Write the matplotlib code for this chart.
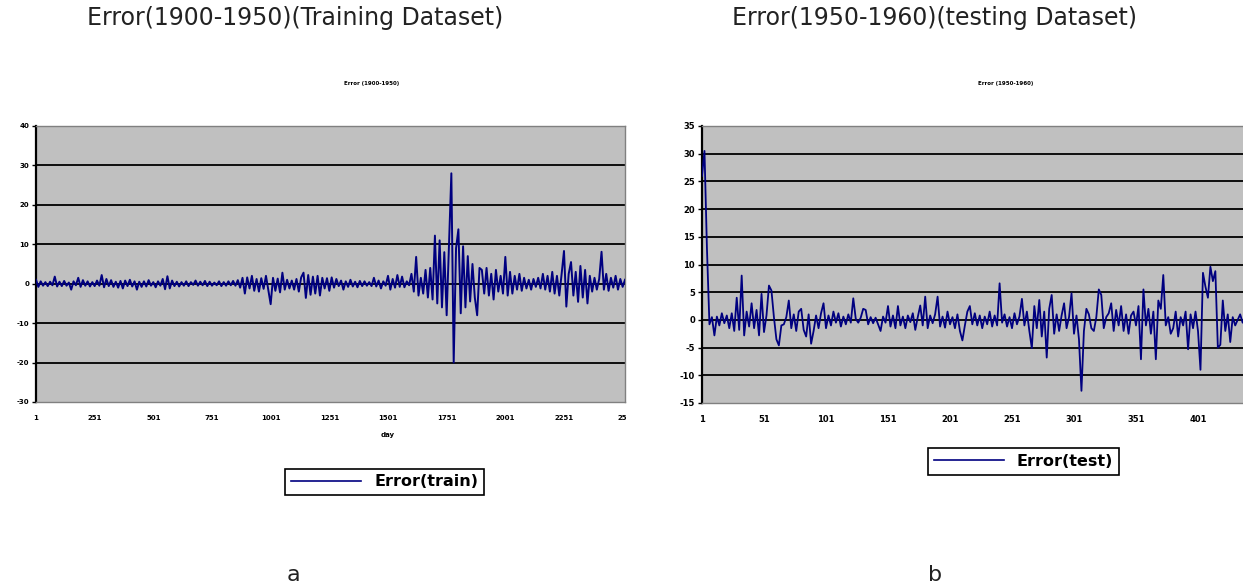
import matplotlib.pyplot as plt
import numpy as np

plt.rcParams['axes.unicode_minus'] = False

# error values (train: one value every 10 days, test: every 2 days)
train_err = [
    1.0, -0.8, 0.6, -0.5, 0.4, -0.6, 0.5, -0.4, 1.8, -0.7,
    0.5, -0.6, 0.7, -0.5, 0.3, -1.5, 0.6, -0.4, 1.5, -0.8,
    0.9, -0.5, 0.6, -0.7, 0.4, -0.6, 0.8, -0.5, 2.2, -0.9,
    1.2, -0.6, 0.9, -0.8, 0.5, -1.0, 0.7, -1.2, 0.8, -0.6,
    1.0, -0.7, 0.6, -1.5, 0.5, -0.8, 0.6, -0.7, 0.9, -0.5,
    0.4, -0.9, 0.6, -0.5, 1.2, -1.4, 1.9, -1.2, 0.8, -0.6,
    0.5, -0.7, 0.4, -0.5, 0.6, -0.6, 0.4, -0.3, 0.8, -0.5,
    0.5, -0.4, 0.7, -0.6, 0.5, -0.5, 0.3, -0.4, 0.6, -0.6,
    0.4, -0.5, 0.6, -0.4, 0.7, -0.5, 0.9, -1.0, 1.5, -2.5,
    1.6, -1.2, 2.0, -1.8, 1.2, -2.0, 1.4, -1.3, 2.0, -1.6,
    -5.2, 1.5, -1.8, 1.3, -2.2, 2.8, -1.5, 1.0, -1.2, 0.8,
    -1.5, 1.2, -2.0, 1.6, 2.8, -3.6, 2.2, -2.8, 1.8, -2.5,
    2.0, -3.0, 1.5, -1.2, 1.4, -1.8, 1.6, -1.0, 1.2, -0.6,
    0.8, -1.5, 0.6, -0.8, 1.0, -0.7, 0.5, -0.9, 0.7, -0.6,
    0.6, -0.5, 0.4, -0.6, 1.5, -0.7, 0.8, -1.2, 0.6, -0.5,
    2.0, -1.5, 1.2, -1.0, 2.2, -0.8, 1.8, -0.9, 0.6, -0.4,
    2.5, -2.0, 6.8, -3.0, 1.5, -2.5, 3.5, -3.5, 4.0, -4.0,
    12.2, -5.0, 11.0, -6.0, 8.0, -8.0, 10.0, 28.0, -20.0, 9.0,
    13.8, -7.5, 9.5, -6.0, 7.0, -4.5, 5.0, -3.5, -8.0, 4.0,
    3.5, -2.5, 4.0, -3.0, 2.5, -4.0, 3.5, -2.0, 2.0, -2.5,
    6.8, -3.0, 3.0, -2.5, 2.0, -1.5, 2.5, -1.8, 1.5, -1.2,
    1.0, -1.5, 1.2, -0.8, 1.5, -1.2, 2.5, -1.5, 2.0, -2.0,
    3.0, -2.5, 2.0, -3.0, 2.5, 8.3, -5.8, 2.5, 5.5, -3.0,
    3.0, -4.6, 4.5, -3.5, 3.5, -5.0, 2.0, -2.0, 1.5, -1.5,
    1.2, 8.1, -1.5, 2.5, -1.8, 1.5, -1.0, 2.0, -1.5, 1.2,
    -0.8, 1.0,
]
test_err = [
    26.0, 30.5, 12.8, -0.8, 0.5, -2.8, 0.6, -1.0, 1.2, -0.6,
    0.8, -1.5, 1.2, -2.0, 4.0, -1.8, 8.0, -2.8, 1.5, -1.2,
    3.0, -1.5, 1.8, -2.8, 4.7, -2.2, 0.8, 6.2, 5.3, 0.5,
    -3.5, -4.6, -1.0, -0.8, 0.5, 3.5, -1.5, 1.0, -2.0, 1.5,
    2.0, -1.8, -3.0, 1.0, -4.3, -2.0, 0.8, -1.5, 1.2, 3.0,
    -1.5, 0.8, -1.0, 1.5, -0.5, 1.2, -1.2, 0.6, -0.8, 1.0,
    -0.5, 3.9, 0.2, -0.5, 0.4, 2.0, 1.8, -0.8, 0.5, -0.6,
    0.4, -0.8, -2.0, 0.6, -0.5, 2.5, -1.2, 0.8, -1.5, 2.5,
    -1.0, 0.6, -1.5, 0.8, -0.4, 1.2, -1.8, 0.5, 2.6, -1.0,
    4.2, -1.5, 0.8, -0.6, 1.0, 4.2, -1.2, 0.6, -1.4, 1.5,
    -0.8, 0.5, -1.5, 1.0, -2.0, -3.7, -1.0, 1.5, 2.5, -0.8,
    1.2, -1.0, 0.8, -1.5, 0.6, -0.8, 1.5, -1.2, 0.8, -1.0,
    6.6, -0.5, 1.0, -1.2, 0.5, -1.5, 1.2, -0.8, 0.6, 3.8,
    -1.0, 1.5, -2.0, -5.1, 2.5, -1.5, 3.6, -3.0, 1.5, -6.8,
    2.0, 4.5, -2.5, 1.0, -2.0, 0.8, 3.0, -1.5, 0.5, 4.8,
    -2.5, 0.8, -3.5, -12.8, -2.0, 2.0, 1.0, -1.5, -2.0, 0.5,
    5.5, 4.5, -1.5, 0.5, 1.2, 3.0, -2.0, 1.8, -1.0, 2.5,
    -2.0, 1.0, -2.5, 0.8, 1.5, -1.0, 2.5, -7.1, 5.5, -1.0,
    2.0, -2.5, 1.5, -7.1, 3.5, 2.0, 8.1, -1.0, 0.5, -2.5,
    -1.5, 1.5, -3.0, 0.5, -1.0, 1.5, -5.3, 1.0, -1.5, 1.5,
    -2.0, -9.0, 8.5, 6.0, 4.0, 9.6, 7.0, 8.8, -5.0, -4.5,
    3.5, -2.0, 1.0, -4.0, 0.5, -1.0, 0.0, 1.0, -0.5, 0.5,
]
train_step = 10
test_step = 2

train_xticks = [1, 251, 501, 751, 1001, 1251, 1501, 1751, 2001, 2251, 2501]
train_xlabels = ['1', '251', '501', '751', '1001', '1251', '1501', '1751', '2001', '2251', '25']
train_yticks = [-30, -20, -10, 0, 10, 20, 30, 40]
test_xticks = [1, 51, 101, 151, 201, 251, 301, 351, 401]
test_yticks = [-15, -10, -5, 0, 5, 10, 15, 20, 25, 30, 35]

LINE = '#000080'
BG = '#c0c0c0'


def excel_axes(ax, yticks, ysize, xsize):
    ax.set_facecolor(BG)
    ax.set_yticks(yticks)
    ax.set_ylim(yticks[0], yticks[-1])
    for y in yticks[1:-1]:
        ax.axhline(y, color='black', lw=1.3, zorder=1)
    for side in ['top', 'right', 'bottom']:
        ax.spines[side].set_color('#808080')
        ax.spines[side].set_linewidth(1)
    ax.spines['left'].set_color('black')
    ax.spines['left'].set_linewidth(1.6)
    ax.tick_params(axis='y', length=3, width=1, pad=2, labelsize=ysize)
    ax.tick_params(axis='x', length=0, pad=9, labelsize=xsize)
    for lab in ax.get_yticklabels() + ax.get_xticklabels():
        lab.set_fontweight('bold')


fig = plt.figure(figsize=(12.43, 5.87), dpi=100)

# left: training
ax1 = fig.add_axes([36 / 1243, 1 - 402 / 587, 589 / 1243, 276 / 587])
days_train = 1 + train_step * np.arange(len(train_err))
ax1.plot(days_train, train_err, color=LINE, lw=1.4, zorder=3)
ax1.set_xlim(1, 2511)
ax1.set_xticks(train_xticks)
ax1.set_xticklabels(train_xlabels)
excel_axes(ax1, train_yticks, 5, 5)

# right: testing
ax2 = fig.add_axes([702 / 1243, 1 - 403 / 587, 547 / 1243, 277 / 587])
days_test = 1 + test_step * np.arange(len(test_err))
ax2.plot(days_test, test_err, color=LINE, lw=1.3, zorder=3)
ax2.set_xlim(1, 1 + 547 / 1.24)
ax2.set_xticks(test_xticks)
excel_axes(ax2, test_yticks, 6, 6)

# titles and small chart captions
fig.text(295 / 1243, 1 - 18 / 587, 'Error(1900-1950)(Training Dataset)', ha='center', va='center',
         fontsize=17, color='#222222')
fig.text(935 / 1243, 1 - 18 / 587, 'Error(1950-1960)(testing Dataset)', ha='center', va='center',
         fontsize=17, color='#222222')
fig.text(372 / 1243, 1 - 83 / 587, 'Error (1900-1950)', ha='center', va='center',
         fontsize=4, fontweight='bold')
fig.text(1006 / 1243, 1 - 83 / 587, 'Error (1950-1960)', ha='center', va='center',
         fontsize=4, fontweight='bold')
fig.text(388 / 1243, 1 - 435 / 587, 'day', ha='center', va='center', fontsize=5, fontweight='bold')
fig.text(293 / 1243, 1 - 575 / 587, 'a', ha='center', va='center', fontsize=16, color='#222222')
fig.text(935 / 1243, 1 - 575 / 587, 'b', ha='center', va='center', fontsize=16, color='#222222')

# legends
for ax, name, cx, cy in [(ax1, 'Error(train)', 384.5, 482), (ax2, 'Error(test)', 1023.5, 461.5)]:
    h, = ax.plot([], [], color=LINE, lw=1.2)
    leg = fig.legend([h], [name], loc='center', bbox_to_anchor=(cx / 1243, 1 - cy / 587),
                     bbox_transform=fig.transFigure, fancybox=False, framealpha=1,
                     edgecolor='black', handlelength=4.4, borderpad=0.35,
                     prop={'size': 11.5, 'weight': 'bold'})
    leg.get_frame().set_linewidth(1.2)

fig.savefig('out.png', dpi=100)
